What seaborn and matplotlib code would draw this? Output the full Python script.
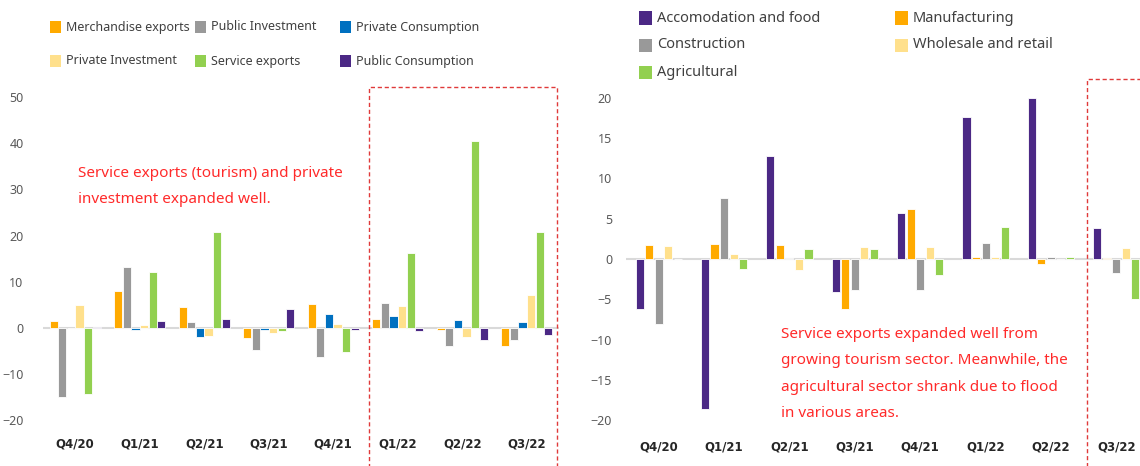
import numpy as np
import pandas as pd
import matplotlib
matplotlib.use('Agg')
import matplotlib.pyplot as plt
import seaborn as sns
from matplotlib.patches import Rectangle

sns.set_style('white')
plt.rcParams['font.family'] = ['Noto Sans', 'DejaVu Sans']

# ---- data ----
quarters = ['Q4/20', 'Q1/21', 'Q2/21', 'Q3/21', 'Q4/21', 'Q1/22', 'Q2/22', 'Q3/22']

# left panel: contribution by demand component
merch_exports = [1.5, 8.1, 4.5, -2.2, 5.2, 1.9, -0.4, -3.8]
public_inv = [-15.0, 13.2, 1.2, -4.8, -6.3, 5.4, -4.0, -2.7]
private_cons = [0.0, -0.4, -2.0, -0.4, 3.0, 2.6, 1.8, 1.3]
private_inv = [5.0, 0.6, -1.8, -1.1, 0.9, 4.8, -2.0, 7.2]
service_exports = [-14.2, 12.1, 20.7, -0.6, -5.3, 16.3, 40.5, 20.7]
public_cons = [0.3, 1.5, 1.9, 4.1, -0.5, -0.6, -2.7, -1.6]

# right panel: by sector
accomodation = [-6.2, -18.6, 12.8, -4.1, 5.7, 17.6, 19.9, 3.9]
manufacturing = [1.7, 1.9, 1.7, -6.2, 6.2, 0.25, -0.6, 0.1]
construction = [-8.0, 7.6, 0.1, -3.9, -3.8, 2.0, 0.25, -1.7]
wholesale = [1.6, 0.6, -1.4, 1.5, 1.5, 0.25, 0.0, 1.4]
agricultural = [0.0, -1.2, 1.2, 1.2, -2.0, 4.0, 0.2, -4.9]

left_series = {
    'Merchandise exports': merch_exports,
    'Public Investment': public_inv,
    'Private Consumption': private_cons,
    'Private Investment': private_inv,
    'Service exports': service_exports,
    'Public Consumption': public_cons,
}
right_series = {
    'Accomodation and food': accomodation,
    'Manufacturing': manufacturing,
    'Construction': construction,
    'Wholesale and retail': wholesale,
    'Agricultural': agricultural,
}

colors = {
    'Merchandise exports': '#FFAA00', 'Manufacturing': '#FFAA00',
    'Public Investment': '#999999', 'Construction': '#999999',
    'Private Consumption': '#0070C0',
    'Private Investment': '#FFE08C', 'Wholesale and retail': '#FFE08C',
    'Service exports': '#92D050', 'Agricultural': '#92D050',
    'Public Consumption': '#4B2885', 'Accomodation and food': '#4B2885',
}


def to_long(series):
    rows = []
    for name, vals in series.items():
        for q, v in zip(quarters, vals):
            rows.append({'quarter': q, 'series': name, 'value': v})
    return pd.DataFrame(rows)


W, H = 1140, 466
fig = plt.figure(figsize=(W / 100, H / 100), dpi=100)


def px_axes(x0, x1, y0, y1):
    # pixel box -> figure fraction axes
    return fig.add_axes([x0 / W, 1 - y1 / H, (x1 - x0) / W, (y1 - y0) / H])


red = '#FF2A2A'

# ---- left panel ----
ax1 = px_axes(43, 559, 83.1, 429.6)
sns.barplot(data=to_long(left_series), x='quarter', y='value', hue='series',
            hue_order=list(left_series), palette=colors, saturation=1,
            width=0.8, gap=0.05, edgecolor='white', linewidth=0.6,
            legend=False, ax=ax1)
ax1.set_ylim(-22, 53)
ax1.set_xlim(-0.5, 7.5)
ax1.set_yticks(range(-20, 51, 10))
ax1.axhline(0, color='#D9D9D9', lw=1.5, zorder=0)
ax1.add_patch(Rectangle((4.55, -40), 2.92, 92.2, fill=False, ec='#E03A3A',
                        ls=(0, (3, 2)), lw=1, clip_on=False))
ax1.text(0.04, 30.6, 'Service exports (tourism) and private\ninvestment expanded well.',
         color=red, fontsize=11, va='center', linespacing=2.05)
ax1.tick_params(axis='y', pad=14)

# ---- right panel ----
ax2 = px_axes(626, 1149, 85.5, 432.5)
sns.barplot(data=to_long(right_series), x='quarter', y='value', hue='series',
            hue_order=list(right_series), palette=colors, saturation=1,
            width=0.73, gap=0.15, edgecolor='white', linewidth=0.6,
            legend=False, ax=ax2)
ax2.set_ylim(-21.5, 21.5)
ax2.set_xlim(-0.5, 7.5)
ax2.set_yticks(range(-20, 21, 5))
ax2.axhline(0, color='#D9D9D9', lw=1.5, zorder=0)
ax2.add_patch(Rectangle((6.55, -30), 3, 52.3, fill=False, ec='#E03A3A',
                        ls=(0, (3, 2)), lw=1, clip_on=False))
ax2.text(1.87, -14.25, 'Service exports expanded well from\ngrowing tourism sector. Meanwhile, the\n'
         'agricultural sector shrank due to flood\nin various areas.',
         color=red, fontsize=11, va='center', linespacing=2.05)
ax2.tick_params(axis='y', pad=10)

for ax in (ax1, ax2):
    sns.despine(ax=ax, left=True, bottom=True)
    ax.set_xlabel('')
    ax.set_ylabel('')
    ax.tick_params(axis='y', length=0, labelsize=9, labelcolor='#595959')
    ax.tick_params(axis='x', length=0, labelcolor='#262626', pad=6)
    ax.set_xticks(range(len(quarters)))
    ax.set_xticklabels(quarters, fontweight='bold', fontsize=8.5,
                       family=['DejaVu Sans'])

# ---- legends (placed like the source layout) ----
def legend_entry(name, x, y, size, fs):
    fig.patches.append(Rectangle((x / W, 1 - (y + size / 2) / H), size / W, size / H,
                                 facecolor=colors[name], edgecolor='none',
                                 transform=fig.transFigure, figure=fig))
    fig.text((x + size + 5) / W, 1 - y / H, name, fontsize=fs, color='#404040', va='center')

left_pos = [(50, 27), (195, 27), (340, 27), (50, 61), (195, 61), (340, 61)]
for name, (x, y) in zip(left_series, left_pos):
    legend_entry(name, x, y, 11, 9)

right_order = ['Accomodation and food', 'Manufacturing', 'Construction',
               'Wholesale and retail', 'Agricultural']
right_pos = [(639, 18), (895, 18), (639, 45), (895, 45), (639, 72)]
for name, (x, y) in zip(right_order, right_pos):
    legend_entry(name, x, y, 13, 10.5)

fig.savefig('out.png', dpi=100)
